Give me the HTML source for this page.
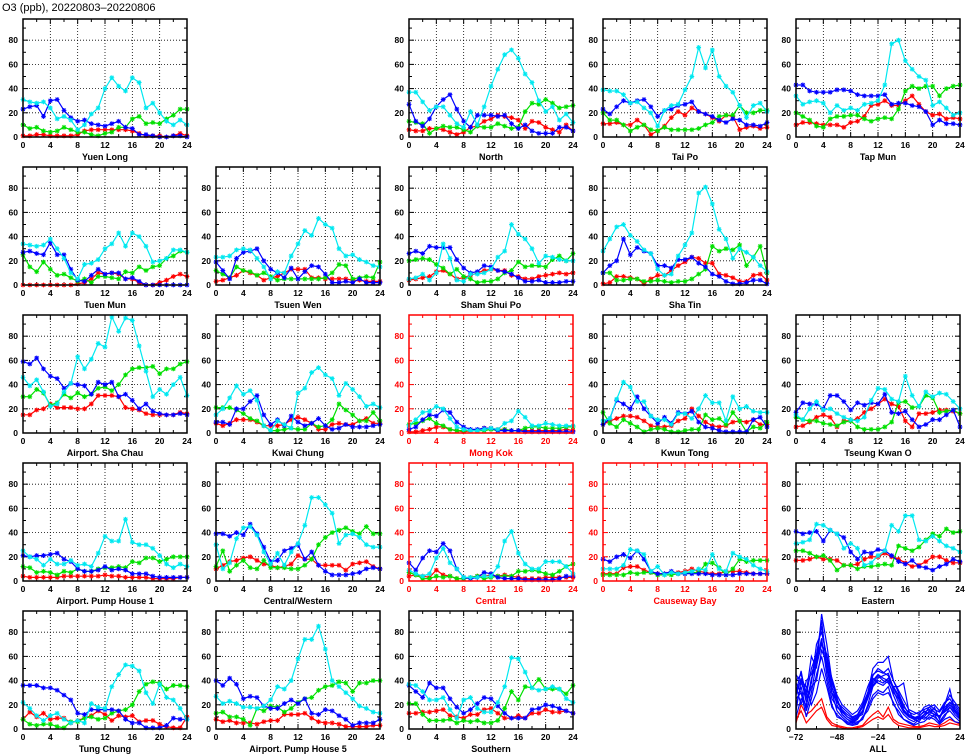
<!DOCTYPE html>
<html><head><meta charset="utf-8"><style>
html,body{margin:0;padding:0;background:#fff;}
svg{display:block;font-family:"Liberation Sans",sans-serif;}
</style></head><body>
<svg id="chart" width="965" height="755" viewBox="0 0 965 755" xmlns="http://www.w3.org/2000/svg">
<text x="2" y="11" font-size="11" fill="#000">O3 (ppb), 20220803–20220806</text>
</svg>
<script>
const stationNames = ["Yuen Long","North","Tai Po","Tap Mun","Tuen Mun","Tsuen Wen","Sham Shui Po","Sha Tin","Airport. Sha Chau","Kwai Chung","Mong Kok","Kwun Tong","Tseung Kwan O","Airport. Pump House 1","Central/Western","Central","Causeway Bay","Eastern","Tung Chung","Airport. Pump House 5","Southern"];
const stationHighlight = [0,0,0,0,0,0,0,0,0,0,1,0,0,0,0,1,1,0,0,0,0];
const hours = [0,1,2,3,4,5,6,7,8,9,10,11,12,13,14,15,16,17,18,19,20,21,22,23,24];
const xTickLabels = [0,4,8,12,16,20,24];
const yTickLabels = [0,20,40,60,80];
const cyanSeries = [
[31,29,28,29,24,15,17,14,6,10,19,24,40,49,42,38,49,45,24,28,20,13,10,14,10],
[37,37,29,22,25,25,18,11,8,21,10,25,42,56,68,72,65,52,45,30,21,25,14,19,12],
[39,38,38,35,28,29,24,20,9,22,26,27,39,50,74,57,72,50,42,37,26,16,26,28,21],
[34,27,29,30,28,20,26,22,24,22,27,28,30,43,77,80,63,56,50,47,26,29,24,18,20],
[34,33,32,33,38,30,22,10,5,17,18,21,30,34,43,32,43,40,32,19,20,22,29,29,27],
[23,23,24,29,30,29,22,15,5,11,10,24,34,45,41,55,50,47,30,24,25,21,19,16,15],
[5,6,9,4,10,34,22,4,3,9,9,10,13,23,28,50,42,38,30,18,24,23,21,20,20],
[28,38,48,50,41,36,29,26,13,8,9,24,33,43,76,81,67,46,38,22,30,27,23,16,11],
[46,39,44,34,22,24,34,41,63,53,61,74,71,96,84,95,93,72,51,30,36,32,40,46,31],
[15,20,29,39,32,35,27,6,2,10,7,4,33,37,50,54,48,45,31,41,36,30,22,24,21],
[6,11,17,18,22,20,12,5,3,2,2,3,4,3,8,10,18,13,6,6,8,7,6,6,6],
[10,12,28,42,38,26,26,14,11,11,7,16,16,12,20,31,25,25,10,30,20,22,18,17,17],
[15,11,20,26,19,20,16,13,11,10,13,27,37,36,28,26,47,31,22,34,30,33,32,26,20],
[25,20,18,13,18,14,14,17,13,14,12,23,37,33,33,51,32,30,30,27,21,14,11,14,12],
[30,10,15,35,44,45,38,24,14,23,13,24,31,46,69,69,63,56,31,38,39,36,30,28,28],
[9,6,4,6,19,27,15,10,3,3,3,4,4,12,33,41,23,14,10,10,16,16,16,12,6],
[10,10,10,13,26,25,22,8,12,5,7,6,7,8,10,9,22,10,8,23,20,18,13,10,8],
[31,32,34,47,46,42,39,27,31,27,13,15,21,25,46,41,54,54,34,33,37,33,29,27,24],
[22,17,11,7,11,13,8,5,7,5,21,18,17,35,45,53,52,48,30,21,37,26,24,17,8],
[27,21,23,21,18,18,17,19,24,35,33,40,58,74,74,85,66,40,35,30,25,19,17,14,13],
[37,36,31,24,24,26,16,9,24,26,17,14,14,22,35,59,58,47,34,32,33,35,33,25,22]];
const blueSeries = [
[23,25,26,17,30,31,22,16,13,14,11,10,9,11,13,8,7,2,2,1,0,0,1,1,0],
[27,13,9,15,25,31,35,23,13,8,18,18,18,17,18,11,7,10,5,3,3,3,8,8,5],
[23,19,25,30,28,30,31,25,17,22,23,26,27,29,21,19,17,14,12,15,14,10,10,9,12],
[43,43,38,37,37,37,39,39,38,35,34,34,34,35,27,28,28,26,25,21,10,14,11,11,10],
[27,28,26,25,35,25,25,13,4,3,8,13,9,10,10,5,6,3,0,0,0,0,0,0,0],
[19,12,5,22,27,28,30,20,13,10,6,14,5,11,16,15,9,2,2,3,2,5,2,2,2],
[26,28,26,32,31,31,31,21,14,10,11,16,15,12,11,9,6,3,3,4,2,2,2,3,3],
[10,16,20,38,25,31,28,26,16,16,14,21,21,23,18,15,9,7,3,1,1,2,4,4,1],
[59,57,62,53,47,45,37,41,40,39,32,42,40,42,30,32,27,20,24,18,16,15,15,16,15],
[9,9,7,20,20,26,31,15,7,11,6,14,9,6,8,12,6,3,4,7,5,5,5,6,7],
[3,5,11,15,14,19,17,9,5,3,3,4,4,2,2,2,2,1,1,1,1,1,1,1,1],
[7,12,27,24,20,30,20,14,8,13,8,17,16,18,9,5,4,2,1,1,1,1,11,13,5],
[17,25,24,24,20,31,31,26,19,25,23,25,24,32,17,16,18,11,5,7,11,11,15,19,5],
[21,20,21,21,22,23,18,16,10,8,8,9,12,9,10,9,6,6,6,4,3,3,3,3,3],
[39,39,37,40,38,47,39,28,16,17,25,27,30,18,24,13,8,5,5,5,6,7,10,11,10],
[15,9,19,25,24,31,25,10,3,2,3,7,6,3,2,2,2,1,1,1,1,1,2,4,4],
[18,16,20,22,19,25,18,8,6,6,8,6,6,6,6,6,5,5,5,5,6,6,6,6,6],
[41,39,40,41,33,42,39,36,24,18,24,23,26,25,21,16,14,17,12,11,9,12,14,18,16],
[36,36,36,34,34,32,28,24,13,12,16,16,16,16,15,8,5,5,1,1,1,3,9,8,8],
[40,36,42,37,25,27,26,19,17,17,21,24,21,25,13,12,16,15,11,8,3,5,5,5,8],
[36,31,26,38,34,34,25,18,13,16,21,26,25,19,13,9,9,9,16,17,20,19,17,15,13]];
const greenSeries = [
[10,7,8,5,4,5,8,6,4,4,2,1,3,4,8,8,15,17,11,12,11,15,18,23,23],
[13,12,11,3,7,9,8,8,6,4,9,8,8,11,9,7,8,21,28,27,31,28,24,25,26],
[20,14,14,10,5,8,10,6,5,8,6,6,6,6,7,10,12,17,18,18,26,20,20,22,22],
[20,17,14,9,8,15,17,17,18,18,15,13,15,16,15,23,38,42,40,42,42,34,40,42,43],
[25,15,11,19,13,8,9,6,3,5,2,7,7,6,5,11,10,15,12,15,16,22,24,28,27],
[12,9,6,15,12,11,8,10,7,4,5,5,5,5,5,5,6,10,17,16,5,6,7,6,19],
[20,21,22,21,17,14,9,13,7,5,2,3,3,5,10,12,19,15,16,16,15,21,24,20,26],
[10,10,4,4,5,5,3,3,4,3,2,3,3,5,9,13,32,28,30,29,33,16,23,32,10],
[30,30,36,33,23,25,32,29,33,30,32,37,38,35,40,48,53,54,54,55,49,53,53,57,59],
[21,21,21,19,16,12,10,6,2,2,3,4,3,3,8,5,6,11,24,19,15,10,10,17,10],
[7,8,10,12,8,6,3,2,2,2,2,2,3,2,3,2,2,4,5,5,4,4,4,5,5],
[17,8,5,11,8,5,1,3,4,3,1,1,2,3,3,15,11,12,7,17,10,1,5,4,9],
[13,11,10,10,8,7,6,9,10,5,3,3,3,5,9,25,26,21,22,31,29,17,18,19,16],
[12,11,7,8,7,5,8,7,10,8,8,10,11,11,12,11,16,15,19,19,16,18,20,20,20],
[12,25,8,13,17,11,10,17,11,11,11,10,10,13,18,30,36,40,42,44,41,39,45,39,39],
[7,5,2,2,4,3,4,2,2,3,4,2,3,4,4,4,8,8,9,8,6,5,8,12,14],
[5,5,5,5,7,6,7,7,5,5,5,6,6,7,7,14,15,11,5,10,18,16,17,17,17],
[25,25,23,20,21,17,9,13,13,10,12,12,13,14,13,29,27,25,28,34,39,37,43,40,41],
[8,4,3,4,4,2,1,6,6,9,10,8,9,13,15,16,20,31,37,39,38,33,36,36,35],
[13,14,10,10,8,3,17,15,19,18,14,17,22,25,26,32,35,36,39,38,31,38,38,40,40],
[21,21,12,7,7,7,8,5,7,6,7,5,5,7,17,31,24,35,34,41,33,33,33,29,36]];
const redSeries = [
[1,1,2,2,1,1,1,1,2,5,6,6,6,6,6,6,5,3,1,1,1,0,1,3,1],
[6,5,5,7,7,6,4,2,4,8,9,13,15,18,17,16,14,7,13,12,8,6,4,10,5],
[11,11,12,10,10,14,10,2,5,9,16,21,18,24,21,19,16,13,18,17,6,8,9,7,8],
[10,12,12,11,10,10,10,8,12,13,17,26,27,30,26,26,30,34,27,21,18,19,15,16,15],
[0,0,0,0,0,0,0,0,1,2,5,10,9,10,9,5,5,2,0,0,2,4,7,9,7],
[3,4,6,8,12,10,8,4,6,7,10,13,13,13,6,6,5,5,5,5,4,4,3,3,3],
[4,5,6,7,11,12,9,5,6,8,10,12,13,12,12,8,7,5,5,7,8,9,10,9,10],
[1,2,7,7,6,5,1,5,8,8,12,16,19,23,22,18,18,9,8,6,3,3,8,9,4],
[15,15,19,20,24,21,21,21,20,20,24,31,31,31,30,21,20,19,16,15,15,15,15,17,16],
[8,6,8,11,11,11,9,6,6,6,7,11,13,11,8,3,3,7,8,7,7,10,12,8,8],
[1,1,2,3,5,5,3,2,1,2,2,4,4,3,3,2,2,2,2,2,2,2,2,3,2],
[7,10,12,14,14,13,10,6,5,5,6,10,12,20,14,9,6,5,6,9,10,9,11,7,7],
[5,6,9,13,15,13,5,10,10,12,17,20,24,28,24,22,10,5,16,16,17,19,19,18,16],
[4,3,3,3,3,3,4,4,4,4,4,4,5,4,4,3,3,3,3,2,2,2,2,3,3],
[10,13,16,17,19,20,17,14,13,11,12,14,21,18,18,13,13,13,13,9,14,15,16,12,10],
[4,5,4,3,9,5,4,2,2,3,4,4,5,4,5,4,3,2,2,2,3,3,3,3,3],
[6,6,6,11,12,12,9,7,6,6,7,7,8,10,8,7,6,6,8,8,8,7,6,6,6],
[17,17,18,20,18,18,17,13,13,14,18,20,20,23,20,18,15,12,13,16,20,20,17,15,15],
[8,14,10,13,8,9,9,5,7,9,11,15,12,7,11,10,11,6,7,7,4,2,1,1,10],
[8,6,7,5,5,5,4,6,7,7,12,12,12,13,9,6,5,5,4,2,2,2,2,3,3],
[13,13,14,14,15,16,11,10,9,12,12,16,17,13,9,9,11,9,13,13,16,14,14,15,13]];
const allHours = [-72,-69,-66,-63,-60,-57,-54,-51,-48,-45,-42,-39,-36,-33,-30,-27,-24,-21,-18,-15,-12,-9,-6,-3,0,3,6,9,12,15,18,21,24];
const allXTickLabels = [-72,-48,-24,0,24];
const allBlueLines = [
[40,45,30,60,50,95,70,40,25,15,10,8,10,12,30,50,55,55,60,40,30,20,12,10,8,10,15,12,10,15,20,15,10],
[35,20,40,45,60,90,50,30,15,10,6,5,6,8,20,35,40,38,42,35,35,38,15,8,6,12,18,14,10,18,22,20,14],
[30,48,25,38,70,80,60,35,20,12,8,5,8,15,25,38,44,40,38,30,25,15,10,8,10,15,12,18,8,20,33,15,10],
[20,35,15,30,55,75,45,25,18,14,10,7,10,15,28,40,45,42,40,28,18,12,8,6,10,8,12,10,6,12,15,10,6],
[25,30,10,25,45,60,40,20,10,8,5,4,5,8,18,28,32,30,35,20,15,8,6,4,8,10,8,12,5,10,18,12,8],
[10,25,20,35,40,65,55,30,22,18,14,10,12,20,30,42,38,36,40,35,28,18,14,12,14,16,18,20,15,22,25,18,12],
[15,40,35,20,30,50,35,18,12,8,4,3,4,10,15,25,30,28,30,22,12,8,5,3,5,6,10,8,4,8,10,6,5],
[45,38,28,50,62,85,58,42,28,20,16,12,15,22,35,45,48,46,50,40,32,24,16,14,12,18,20,16,14,20,28,22,16],
[28,42,22,40,58,72,50,34,24,16,12,9,11,18,30,44,50,47,44,32,22,14,10,9,11,14,16,14,9,16,22,16,11],
[38,30,18,42,52,70,62,38,26,12,8,6,9,14,26,36,42,44,46,34,26,16,11,10,9,12,14,12,11,14,18,14,9]];
const allRedLines = [
[5,20,12,15,20,25,10,5,3,2,1,1,2,3,8,12,15,10,18,8,5,4,3,2,2,3,5,4,3,5,8,6,4],
[8,15,5,10,15,18,8,3,2,1,0,0,1,2,5,8,10,8,12,6,3,2,1,1,1,2,3,2,2,3,5,4,3]];

const NS = "http://www.w3.org/2000/svg";
const svg = document.getElementById("chart");
const colLeft = [23,216,409,603,796];
const rowBottom = [137,285,433,581,729];
const PW = 164, PH = 118, YMAX = 97.5;
const layout = [[0,0],[0,2],[0,3],[0,4],[1,0],[1,1],[1,2],[1,3],[2,0],[2,1],[2,2],[2,3],[2,4],[3,0],[3,1],[3,2],[3,3],[3,4],[4,0],[4,1],[4,2]];
const seriesColors = {red:"#ff0000",green:"#00e000",blue:"#0000ff",cyan:"#00e8f0"};

function mk(tag, attrs, parent){
  const e = document.createElementNS(NS, tag);
  for (const k in attrs) e.setAttribute(k, attrs[k]);
  (parent||svg).appendChild(e);
  return e;
}

function drawFrame(g, L, B, hl, xmin, xmax, xLabels, gridX, minorStep, title){
  const T = B - PH;
  const col = hl ? "#ff0000" : "#000";
  const xs = h => L + (h - xmin) / (xmax - xmin) * PW;
  const ys = v => B - v / YMAX * PH;
  gridX.forEach(h => {
    const gl = mk("line",{x1:xs(h),x2:xs(h),y1:T,y2:B,stroke:"#000","stroke-width":0.8,"stroke-dasharray":"1,2"},g);
    
    
  });
  [20,40,60,80].forEach(v => {
    const gl = mk("line",{x1:L,x2:L+PW,y1:ys(v),y2:ys(v),stroke:"#000","stroke-width":0.8,"stroke-dasharray":"1,2"},g);
    
    
  });
  for (let h = xmin; h <= xmax; h += minorStep){
    const len = ((h - xmin) % (minorStep*2) === 0) ? 5 : 3;
    const t1 = mk("line",{x1:xs(h),x2:xs(h),y1:B,y2:B-len,stroke:col,"stroke-width":1},g);
    
    
    const t2 = mk("line",{x1:xs(h),x2:xs(h),y1:T,y2:T+len,stroke:col,"stroke-width":1},g);
    
    
  }
  for (let v = 0; v <= 90; v += 10){
    const len = v % 20 === 0 ? 5 : 3;
    const t1 = mk("line",{x1:L,x2:L+len,y1:ys(v),y2:ys(v),stroke:col,"stroke-width":1},g);
    
    
    const t2 = mk("line",{x1:L+PW,x2:L+PW-len,y1:ys(v),y2:ys(v),stroke:col,"stroke-width":1},g);
    
    
  }
  xLabels.forEach(h => {
    const t = mk("text",{x:xs(h),y:B+11,"text-anchor":"middle","font-size":8.5,"font-weight":"bold",fill:col},g);
    t.textContent = h < 0 ? "\u2212" + (-h) : h;
    
    
  });
  yTickLabels.forEach(v => {
    const t = mk("text",{x:L-5,y:ys(v)+3,"text-anchor":"end","font-size":8.5,"font-weight":"bold",fill:col},g);
    t.textContent = v;
    
    
  });
  const tt = mk("text",{x:L+PW/2,y:B+23,"text-anchor":"middle","font-size":9,"font-weight":"bold",fill:col},g);
  tt.textContent = title;
  
  
  return {xs, ys, T, col};
}

function drawSeries(g, vals, xvals, xs, ys, name, markers){
  const pts = vals.map((v,i) => xs(xvals[i]).toFixed(1) + "," + ys(v).toFixed(1)).join(" ");
  const pl = mk("polyline",{points:pts,fill:"none",stroke:seriesColors[name],"stroke-width":1.2},g);
  
  
  if (!markers) return;
  vals.forEach((v,i) => {
    const x = xs(xvals[i]), y = ys(v), r = 2.4;
    const d = `M${x-r},${y}H${x+r}M${x},${y-r}V${y+r}M${x-r*0.75},${y-r*0.75}L${x+r*0.75},${y+r*0.75}M${x-r*0.75},${y+r*0.75}L${x+r*0.75},${y-r*0.75}`;
    const m = mk("path",{d:d,stroke:seriesColors[name],"stroke-width":1,fill:"none"},g);
    
    
  });
}

stationNames.forEach((nm, si) => {
  const [r,c] = layout[si];
  const L = colLeft[c], B = rowBottom[r];
  const g = mk("g",{});
  
  
  const hl = stationHighlight[si] === 1;
  const f = drawFrame(g, L, B, hl, 0, 24, xTickLabels, [4,8,12,16,20], 2, nm);
  drawSeries(g, redSeries[si], hours, f.xs, f.ys, "red", true);
  drawSeries(g, greenSeries[si], hours, f.xs, f.ys, "green", true);
  drawSeries(g, blueSeries[si], hours, f.xs, f.ys, "blue", true);
  drawSeries(g, cyanSeries[si], hours, f.xs, f.ys, "cyan", true);
  const fr = mk("rect",{x:L,y:B-PH,width:PW,height:PH,fill:"none",stroke:f.col,"stroke-width":1.5},g);
  
  
});

(function(){
  const L = colLeft[4], B = rowBottom[4];
  const g = mk("g",{});
  
  
  const f = drawFrame(g, L, B, false, -72, 24, allXTickLabels, [-48,-24,0], 12, "ALL");
  allRedLines.forEach(line => drawSeries(g, line, allHours, f.xs, f.ys, "red", false));
  allBlueLines.forEach(line => drawSeries(g, line, allHours, f.xs, f.ys, "blue", false));
  const fr = mk("rect",{x:L,y:B-PH,width:PW,height:PH,fill:"none",stroke:"#000","stroke-width":1.5},g);
  
  
})();
</script>
</body></html>
